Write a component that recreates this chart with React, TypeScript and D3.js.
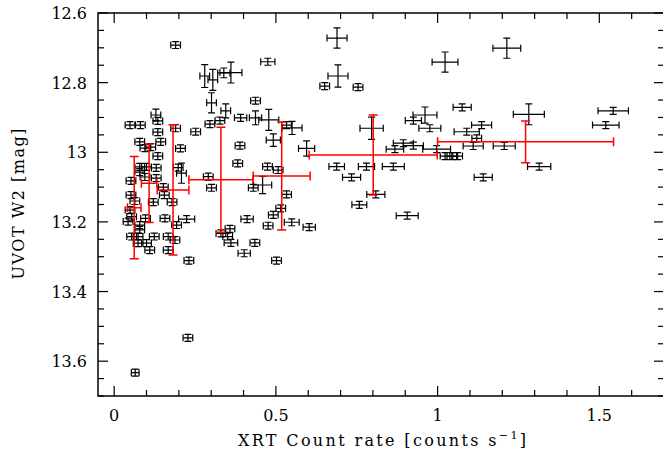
import React from 'react';
import * as d3 from 'd3';

// [count rate, W2 mag, rate error, mag error]
const observations: [number, number, number, number][] = [
	[0.049, 12.922, 0.015, 0.010], [0.081, 12.922, 0.015, 0.010], [0.129, 12.893, 0.015, 0.017],
	[0.135, 12.910, 0.015, 0.010], [0.135, 12.942, 0.015, 0.010], [0.144, 12.970, 0.015, 0.010],
	[0.135, 13.011, 0.015, 0.010], [0.079, 12.970, 0.015, 0.010], [0.095, 12.988, 0.015, 0.010],
	[0.113, 12.985, 0.015, 0.010], [0.079, 13.042, 0.015, 0.010], [0.100, 13.042, 0.015, 0.010],
	[0.130, 13.045, 0.015, 0.010], [0.130, 13.074, 0.015, 0.010], [0.095, 13.071, 0.015, 0.010],
	[0.079, 13.057, 0.015, 0.010], [0.052, 13.082, 0.015, 0.010], [0.152, 13.100, 0.015, 0.010],
	[0.155, 13.123, 0.015, 0.010], [0.179, 13.143, 0.015, 0.010], [0.121, 13.143, 0.015, 0.010],
	[0.052, 13.123, 0.015, 0.010], [0.064, 13.140, 0.015, 0.010], [0.054, 13.185, 0.015, 0.010],
	[0.043, 13.199, 0.015, 0.010], [0.097, 13.190, 0.015, 0.010], [0.157, 13.190, 0.015, 0.010],
	[0.193, 13.209, 0.015, 0.010], [0.224, 13.192, 0.025, 0.010], [0.079, 13.209, 0.015, 0.010],
	[0.079, 13.223, 0.015, 0.010], [0.054, 13.242, 0.015, 0.010], [0.074, 13.242, 0.015, 0.010],
	[0.074, 13.261, 0.015, 0.010], [0.100, 13.261, 0.015, 0.010], [0.124, 13.242, 0.015, 0.010],
	[0.110, 13.281, 0.015, 0.010], [0.167, 13.242, 0.015, 0.010], [0.188, 13.252, 0.015, 0.010],
	[0.167, 13.281, 0.015, 0.010], [0.231, 13.311, 0.015, 0.010], [0.190, 12.692, 0.015, 0.010],
	[0.190, 12.931, 0.015, 0.010], [0.205, 12.989, 0.015, 0.010], [0.198, 13.044, 0.015, 0.010],
	[0.208, 13.060, 0.015, 0.029], [0.252, 12.941, 0.015, 0.010], [0.049, 13.166, 0.015, 0.010],
	[0.228, 13.533, 0.015, 0.010], [0.065, 13.633, 0.012, 0.010],
	[0.280, 12.781, 0.015, 0.033], [0.305, 12.792, 0.015, 0.030], [0.361, 12.771, 0.034, 0.030],
	[0.339, 12.772, 0.019, 0.014], [0.475, 12.740, 0.022, 0.010], [0.437, 12.852, 0.015, 0.010],
	[0.301, 12.858, 0.015, 0.029], [0.345, 12.881, 0.015, 0.020], [0.391, 12.901, 0.019, 0.010],
	[0.437, 12.901, 0.019, 0.020], [0.478, 12.907, 0.031, 0.030], [0.296, 12.919, 0.015, 0.010],
	[0.327, 12.909, 0.015, 0.010], [0.533, 12.922, 0.015, 0.010], [0.550, 12.930, 0.031, 0.019],
	[0.492, 12.965, 0.022, 0.018], [0.595, 12.989, 0.025, 0.022], [0.389, 12.981, 0.015, 0.010],
	[0.382, 13.032, 0.015, 0.010], [0.474, 13.041, 0.015, 0.010], [0.507, 13.051, 0.015, 0.010],
	[0.459, 13.094, 0.028, 0.025], [0.430, 13.102, 0.015, 0.010], [0.533, 13.121, 0.015, 0.010],
	[0.515, 13.161, 0.015, 0.010], [0.492, 13.180, 0.015, 0.010], [0.549, 13.201, 0.023, 0.010],
	[0.476, 13.211, 0.015, 0.010], [0.411, 13.192, 0.019, 0.010], [0.358, 13.220, 0.015, 0.010],
	[0.330, 13.233, 0.015, 0.010], [0.351, 13.242, 0.015, 0.010], [0.361, 13.260, 0.021, 0.010],
	[0.435, 13.260, 0.015, 0.010], [0.402, 13.290, 0.019, 0.010], [0.502, 13.311, 0.015, 0.010],
	[0.291, 13.070, 0.015, 0.010], [0.301, 13.102, 0.015, 0.010], [0.603, 13.215, 0.019, 0.010],
	[0.651, 12.810, 0.015, 0.010], [0.689, 12.672, 0.031, 0.029], [0.692, 12.781, 0.031, 0.032],
	[0.754, 12.813, 0.015, 0.010], [1.023, 12.741, 0.040, 0.029], [1.214, 12.701, 0.043, 0.029],
	[1.076, 12.871, 0.028, 0.010], [0.961, 12.893, 0.037, 0.023], [0.925, 12.909, 0.025, 0.010],
	[0.976, 12.931, 0.034, 0.010], [0.796, 12.931, 0.036, 0.032], [1.136, 12.922, 0.031, 0.010],
	[1.090, 12.941, 0.039, 0.010], [1.121, 12.960, 0.015, 0.010], [1.282, 12.891, 0.048, 0.030],
	[1.543, 12.881, 0.047, 0.010], [1.520, 12.922, 0.041, 0.010], [0.894, 12.974, 0.031, 0.010],
	[0.925, 12.981, 0.031, 0.010], [0.868, 12.991, 0.027, 0.010], [0.997, 12.991, 0.043, 0.010],
	[1.110, 12.982, 0.031, 0.010], [1.206, 12.982, 0.034, 0.010], [1.023, 13.011, 0.015, 0.010],
	[1.044, 13.011, 0.015, 0.010], [1.062, 13.011, 0.015, 0.010], [0.688, 13.041, 0.024, 0.010],
	[0.780, 13.041, 0.025, 0.010], [0.863, 13.041, 0.034, 0.010], [0.734, 13.072, 0.028, 0.010],
	[1.141, 13.072, 0.028, 0.010], [1.314, 13.041, 0.036, 0.010], [0.758, 13.151, 0.023, 0.010],
	[0.809, 13.121, 0.028, 0.010], [0.906, 13.182, 0.034, 0.010],
];

// binned averages: [count rate, W2 mag, half bin width, mag scatter]
const bins: [number, number, number, number][] = [
	[0.062, 13.159, 0.021, 0.147],
	[0.108, 13.089, 0.024, 0.113],
	[0.182, 13.108, 0.049, 0.187],
	[0.330, 13.079, 0.099, 0.151],
	[0.518, 13.068, 0.088, 0.155],
	[0.801, 13.008, 0.198, 0.115],
	[1.272, 12.970, 0.272, 0.060],
];

const xMajor = [0, 0.5, 1, 1.5];
const xMinor = d3.range(0, 17).map(i => i / 10);
const yMajor = [12.6, 12.8, 13, 13.2, 13.4, 13.6];
const yMinor = d3.range(0, 23).map(i => 12.6 + i * 0.05);

const W = 663, H = 454;
const left = 98, right = 664, top = 13, bottom = 396;

const x = d3.scaleLinear().domain([-0.05, 1.7]).range([left, right]);
const y = d3.scaleLinear().domain([12.6, 13.7]).range([top, bottom]);

const serif = '"DejaVu Serif", serif';

function ErrorCross({ d, color, cap, width }: { d: [number, number, number, number]; color: string; cap: number; width: number }) {
	const [cx, cy, ex, ey] = d;
	const x0 = x(cx - ex), x1 = x(cx + ex), px = x(cx);
	const y0 = y(cy - ey), y1 = y(cy + ey), py = y(cy);
	const path = `M${x0},${py}H${x1}M${px},${y0}V${y1}` +
		`M${x0},${py - cap}V${py + cap}M${x1},${py - cap}V${py + cap}` +
		`M${px - cap},${y0}H${px + cap}M${px - cap},${y1}H${px + cap}`;
	return <path d={path} stroke={color} strokeWidth={width} fill="none" />;
}

export default function App() {
	const isMajorX = (v: number) => xMajor.some(m => Math.abs(m - v) < 1e-6);
	const isMajorY = (v: number) => yMajor.some(m => Math.abs(m - v) < 1e-6);
	return (
		<svg width={W} height={H} style={{ position: 'absolute', left: 0, top: 0, background: '#fff' }}>
			<g stroke="#000" strokeWidth={1.2}>
				{xMinor.map(v => {
					const len = isMajorX(v) ? 10 : 6;
					return (
						<g key={'x' + v}>
							<line x1={x(v)} x2={x(v)} y1={bottom} y2={bottom - len} />
							<line x1={x(v)} x2={x(v)} y1={top} y2={top + len} />
						</g>
					);
				})}
				{yMinor.map(v => {
					const len = isMajorY(v) ? 10 : 6;
					return (
						<g key={'y' + v}>
							<line x1={left} x2={left + len} y1={y(v)} y2={y(v)} />
							<line x1={right} x2={right - len} y1={y(v)} y2={y(v)} />
						</g>
					);
				})}
			</g>
			{observations.map((d, i) => <ErrorCross key={i} d={d} color="#000" cap={3.5} width={1.2} />)}
			{bins.map((d, i) => <ErrorCross key={'b' + i} d={d} color="#ff0000" cap={4.5} width={1.5} />)}
			<rect x={left} y={top} width={right - left} height={bottom - top} fill="none" stroke="#000" strokeWidth={1.5} />
			<g fontFamily={serif} fontSize={16} fill="#000">
				{xMajor.map(v => (
					<text key={v} x={x(v)} y={421} textAnchor="middle">{d3.format('~g')(v)}</text>
				))}
				{yMajor.map(v => (
					<text key={v} x={87} y={y(v) + 6} textAnchor="end">{d3.format('~g')(v)}</text>
				))}
				<text x={382} y={446} textAnchor="middle" textLength={288} lengthAdjust="spacing">
					XRT Count rate [counts s<tspan dy={-7} fontSize={11}>−1</tspan><tspan dy={7}>]</tspan>
				</text>
				<text transform="translate(24,204) rotate(-90)" textAnchor="middle" textLength={151} lengthAdjust="spacing">
					UVOT W2 [mag]
				</text>
			</g>
		</svg>
	);
}
